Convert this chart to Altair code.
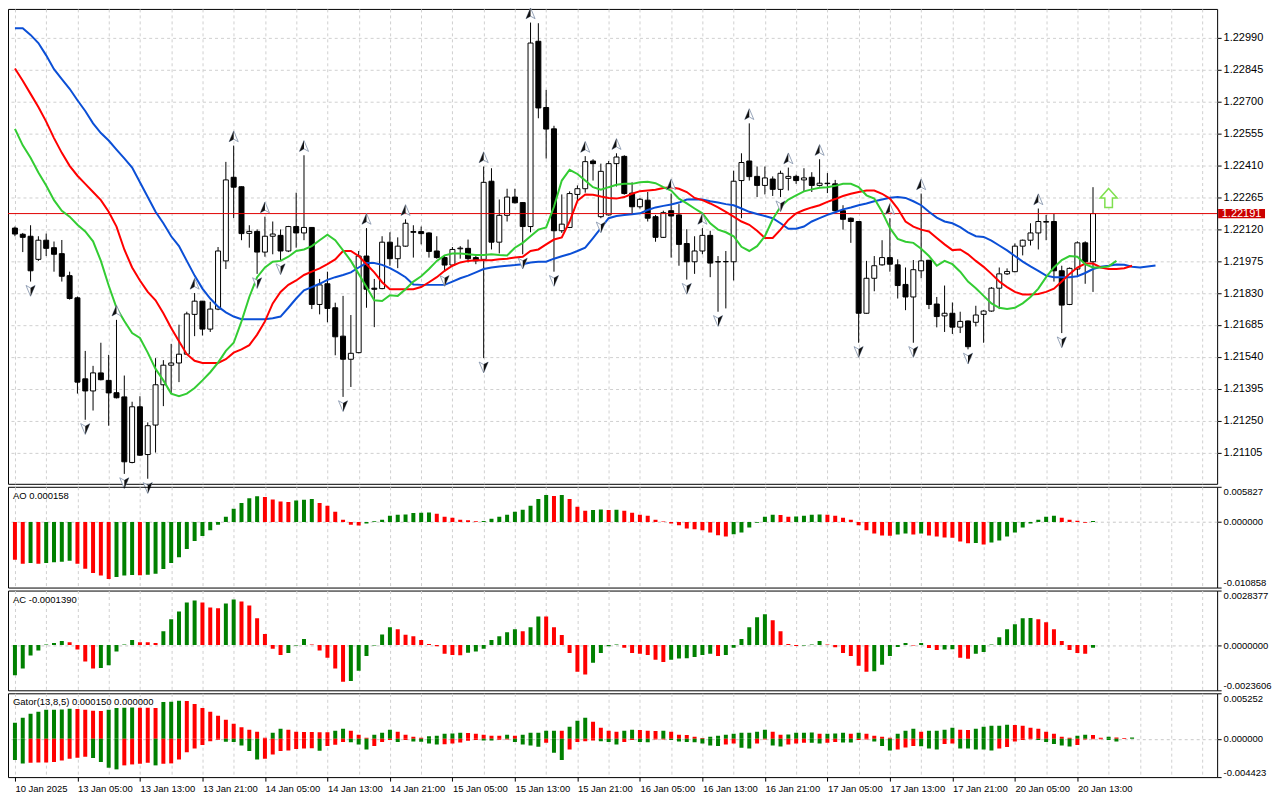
import altair as alt
import pandas as pd

FONT = "Liberation Sans"
W = 1212
H_MAIN, H_AO, H_AC, H_GATOR = 476, 101, 100, 84
GREEN, RED = "#008000", "#FF0000"
GRID_COLOR = "#d0d0d0"

# ---------------- price data (hourly candles) ----------------
OPEN = [1.22125, 1.22097, 1.22088, 1.21983, 1.22070, 1.22036, 1.22009, 1.21909, 1.21808, 1.21440,
        1.21385, 1.21467, 1.21433, 1.21377, 1.21358, 1.21060, 1.21313, 1.21096, 1.21230, 1.21413,
        1.21502, 1.21512, 1.21552, 1.21733, 1.21793, 1.21666, 1.21757, 1.21976, 1.22356, 1.22313,
        1.22101, 1.22110, 1.22016, 1.22088, 1.22092, 1.22021, 1.22132, 1.22103, 1.22128, 1.21778,
        1.21872, 1.21763, 1.21634, 1.21529, 1.21559, 1.21998, 1.21852, 1.21850, 1.22061, 1.21986,
        1.22043, 1.22109, 1.22109, 1.22103, 1.22021, 1.21991, 1.21957, 1.22031, 1.22033, 1.21991,
        1.21983, 1.22338, 1.22061, 1.22183, 1.22266, 1.22241, 1.22132, 1.22974, 1.22673, 1.22576,
        1.22113, 1.22128, 1.22278, 1.22304, 1.22430, 1.22177, 1.22185, 1.22418, 1.22451, 1.22284,
        1.22222, 1.22252, 1.22177, 1.22083, 1.22204, 1.22185, 1.22055, 1.21972, 1.22021, 1.22092,
        1.21971, 1.21972, 1.21972, 1.22341, 1.22430, 1.22360, 1.22319, 1.22348, 1.22301, 1.22351,
        1.22360, 1.22344, 1.22356, 1.22319, 1.22329, 1.22326, 1.22204, 1.22170, 1.22155, 1.21738,
        1.21897, 1.21958, 1.21991, 1.21958, 1.21869, 1.21812, 1.21931, 1.21979, 1.21780, 1.21726,
        1.21738, 1.21675, 1.21703, 1.21697, 1.21733, 1.21748, 1.21852, 1.21917, 1.21927, 1.22043,
        1.22070, 1.22103, 1.22152, 1.22155, 1.21931, 1.21778, 1.21939, 1.22058, 1.21972]
HIGH = [1.22132, 1.22103, 1.22138, 1.22088, 1.22100, 1.22064, 1.22071, 1.21927, 1.21814, 1.21567,
        1.21499, 1.21604, 1.21549, 1.21708, 1.21455, 1.21336, 1.21361, 1.21242, 1.21534, 1.21525,
        1.21599, 1.21686, 1.21745, 1.21830, 1.21794, 1.21790, 1.22039, 1.22426, 1.22500, 1.22314,
        1.22138, 1.22119, 1.22177, 1.22155, 1.22119, 1.22135, 1.22286, 1.22456, 1.22129, 1.21894,
        1.21927, 1.21786, 1.21817, 1.21730, 1.22021, 1.22125, 1.21894, 1.22088, 1.22106, 1.22083,
        1.22165, 1.22138, 1.22132, 1.22106, 1.22088, 1.21998, 1.22039, 1.22043, 1.22073, 1.22006,
        1.22405, 1.22397, 1.22255, 1.22304, 1.22304, 1.22243, 1.23059, 1.23056, 1.22753, 1.22590,
        1.22278, 1.22292, 1.22319, 1.22452, 1.22438, 1.22418, 1.22430, 1.22465, 1.22456, 1.22333,
        1.22262, 1.22289, 1.22185, 1.22204, 1.22282, 1.22234, 1.22120, 1.22088, 1.22125, 1.22113,
        1.21998, 1.22021, 1.22386, 1.22465, 1.22601, 1.22405, 1.22405, 1.22360, 1.22386, 1.22400,
        1.22368, 1.22397, 1.22379, 1.22438, 1.22375, 1.22344, 1.22229, 1.22173, 1.22156, 1.21976,
        1.21998, 1.22070, 1.22170, 1.21983, 1.21946, 1.21980, 1.22282, 1.21980, 1.21812, 1.21864,
        1.21787, 1.21745, 1.21705, 1.21772, 1.21752, 1.21857, 1.21946, 1.21942, 1.22055, 1.22073,
        1.22147, 1.22214, 1.22185, 1.22189, 1.21954, 1.21946, 1.22065, 1.22065, 1.22311]
LOW = [1.22088, 1.22016, 1.21882, 1.21976, 1.21998, 1.21927, 1.21882, 1.21800, 1.21373, 1.21254,
       1.21296, 1.21433, 1.21227, 1.21351, 1.21008, 1.21056, 1.21090, 1.20986, 1.21105, 1.21316,
       1.21373, 1.21425, 1.21549, 1.21634, 1.21637, 1.21653, 1.21752, 1.21939, 1.22170, 1.22070,
       1.22036, 1.21917, 1.21995, 1.22006, 1.21980, 1.22016, 1.22036, 1.22070, 1.21757, 1.21733,
       1.21697, 1.21547, 1.21358, 1.21403, 1.21556, 1.21763, 1.21675, 1.21847, 1.21954, 1.21943,
       1.22040, 1.21991, 1.22051, 1.21991, 1.21986, 1.21927, 1.21951, 1.21986, 1.21969, 1.21961,
       1.21534, 1.22028, 1.22010, 1.22155, 1.22237, 1.22006, 1.22106, 1.22624, 1.22441, 1.21927,
       1.22103, 1.22125, 1.22252, 1.22286, 1.22341, 1.22170, 1.22182, 1.22314, 1.22277, 1.22189,
       1.22214, 1.22155, 1.22063, 1.22080, 1.21991, 1.21954, 1.21891, 1.21917, 1.22006, 1.21902,
       1.21745, 1.21760, 1.21887, 1.22170, 1.22341, 1.22266, 1.22278, 1.22271, 1.22266, 1.22296,
       1.22326, 1.22289, 1.22289, 1.22314, 1.22284, 1.22197, 1.22118, 1.22058, 1.21604, 1.21736,
       1.21838, 1.21954, 1.21927, 1.21805, 1.21752, 1.21604, 1.21897, 1.21757, 1.21674, 1.21653,
       1.21644, 1.21648, 1.21574, 1.21678, 1.21604, 1.21745, 1.21757, 1.21912, 1.21924, 1.22001,
       1.22046, 1.22028, 1.22070, 1.21882, 1.21648, 1.21775, 1.21902, 1.21872, 1.21835]
CLOSE = [1.22098, 1.22083, 1.21931, 1.22070, 1.22033, 1.22006, 1.21906, 1.21805, 1.21425, 1.21385,
         1.21467, 1.21436, 1.21376, 1.21354, 1.21063, 1.21313, 1.21093, 1.21227, 1.21413, 1.21502,
         1.21512, 1.21552, 1.21735, 1.21793, 1.21666, 1.21757, 1.22021, 1.22344, 1.22311, 1.22100,
         1.22110, 1.22016, 1.22088, 1.22098, 1.22021, 1.22132, 1.22103, 1.22128, 1.21778, 1.21867,
         1.21760, 1.21631, 1.21529, 1.21556, 1.21998, 1.21847, 1.21847, 1.22061, 1.21986, 1.22043,
         1.22147, 1.22106, 1.22100, 1.22019, 1.21991, 1.21957, 1.22028, 1.22034, 1.21986, 1.21976,
         1.22333, 1.22061, 1.22183, 1.22266, 1.22240, 1.22132, 1.22966, 1.22671, 1.22575, 1.22113,
         1.22143, 1.22282, 1.22304, 1.22427, 1.22418, 1.22383, 1.22418, 1.22448, 1.22282, 1.22222,
         1.22256, 1.22170, 1.22083, 1.22195, 1.22180, 1.22051, 1.21972, 1.22021, 1.22092, 1.21966,
         1.21973, 1.21973, 1.22338, 1.22423, 1.22359, 1.22319, 1.22353, 1.22301, 1.22374, 1.22360,
         1.22341, 1.22353, 1.22319, 1.22329, 1.22327, 1.22204, 1.22165, 1.22155, 1.21738, 1.21897,
         1.21954, 1.21991, 1.21961, 1.21864, 1.21812, 1.21936, 1.21976, 1.21778, 1.21723, 1.21738,
         1.21675, 1.21701, 1.21586, 1.21730, 1.21748, 1.21852, 1.21917, 1.21928, 1.22043, 1.22070,
         1.22103, 1.22155, 1.22155, 1.21931, 1.21775, 1.21942, 1.22058, 1.21972, 1.22191]

# ---------------- Alligator (shifted lines) ----------------
JAW = [1.23033, 1.23033, 1.23003, 1.22966, 1.22910, 1.22847, 1.22802, 1.22758, 1.22706, 1.22657,
       1.22601, 1.22557, 1.22523, 1.22482, 1.22442, 1.22400, 1.22333, 1.22266, 1.22199, 1.22147,
       1.22088, 1.22043, 1.21976, 1.21909, 1.21850, 1.21805, 1.21768, 1.21742, 1.21723, 1.21711,
       1.21711, 1.21711, 1.21711, 1.21715, 1.21723, 1.21763, 1.21805, 1.21842, 1.21857, 1.21872,
       1.21890, 1.21902, 1.21912, 1.21924, 1.21946, 1.21966, 1.21966, 1.21958, 1.21943, 1.21924,
       1.21902, 1.21869, 1.21867, 1.21867, 1.21867, 1.21867, 1.21882, 1.21897, 1.21909, 1.21924,
       1.21939, 1.21946, 1.21951, 1.21954, 1.21957, 1.21961, 1.21969, 1.21972, 1.21972, 1.21986,
       1.21997, 1.22007, 1.22021, 1.22036, 1.22080, 1.22125, 1.22170, 1.22180, 1.22185, 1.22188,
       1.22192, 1.22207, 1.22219, 1.22226, 1.22232, 1.22241, 1.22255, 1.22256, 1.22255, 1.22247,
       1.22241, 1.22234, 1.22229, 1.22214, 1.22199, 1.22189, 1.22180, 1.22170, 1.22147, 1.22122,
       1.22122, 1.22132, 1.22155, 1.22170, 1.22185, 1.22197, 1.22210, 1.22219, 1.22229, 1.22237,
       1.22247, 1.22255, 1.22263, 1.22266, 1.22262, 1.22247, 1.22229, 1.22199, 1.22173, 1.22155,
       1.22147, 1.22129, 1.22106, 1.22088, 1.22085, 1.22068, 1.22046, 1.22024, 1.21998, 1.21973,
       1.21951, 1.21931, 1.21909, 1.21902, 1.21902, 1.21902, 1.21906, 1.21921, 1.21939, 1.21949,
       1.21954, 1.21960, 1.21958, 1.21949, 1.21946, 1.21951, 1.21955]
TEETH = [1.22850, 1.22795, 1.22735, 1.22675, 1.22609, 1.22534, 1.22467, 1.22408, 1.22363, 1.22326,
         1.22289, 1.22252, 1.22199, 1.22132, 1.22028, 1.21946, 1.21887, 1.21835, 1.21797, 1.21738,
         1.21671, 1.21611, 1.21552, 1.21522, 1.21512, 1.21512, 1.21512, 1.21529, 1.21559, 1.21574,
         1.21593, 1.21641, 1.21701, 1.21783, 1.21835, 1.21867, 1.21887, 1.21912, 1.21927, 1.21942,
         1.21961, 1.21983, 1.22021, 1.22021, 1.21998, 1.21961, 1.21924, 1.21879, 1.21847, 1.21847,
         1.21847, 1.21847, 1.21857, 1.21879, 1.21902, 1.21931, 1.21954, 1.21969, 1.21976, 1.21979,
         1.21979, 1.21979, 1.21983, 1.21986, 1.21991, 1.21995, 1.22021, 1.22028, 1.22051, 1.22073,
         1.22083, 1.22155, 1.22249, 1.22278, 1.22277, 1.22269, 1.22262, 1.22259, 1.22266, 1.22281,
         1.22293, 1.22296, 1.22299, 1.22307, 1.22311, 1.22304, 1.22289, 1.22262, 1.22252, 1.22237,
         1.22219, 1.22199, 1.22177, 1.22155, 1.22140, 1.22113, 1.22080, 1.22080, 1.22118, 1.22162,
         1.22192, 1.22207, 1.22219, 1.22229, 1.22244, 1.22257, 1.22271, 1.22281, 1.22289, 1.22296,
         1.22296, 1.22281, 1.22259, 1.22214, 1.22155, 1.22132, 1.22118, 1.22110, 1.22080, 1.22051,
         1.22025, 1.22028, 1.22006, 1.21976, 1.21949, 1.21917, 1.21882, 1.21857, 1.21835, 1.21823,
         1.21823, 1.21826, 1.21835, 1.21850, 1.21882, 1.21917, 1.21946, 1.21964, 1.21964, 1.21946,
         1.21939, 1.21939, 1.21943, 1.21954]
LIPS = [1.22576, 1.22501, 1.22445, 1.22378, 1.22319, 1.22252, 1.22204, 1.22177, 1.22140, 1.22110,
        1.22065, 1.21976, 1.21864, 1.21763, 1.21703, 1.21648, 1.21626, 1.21559, 1.21485, 1.21433,
        1.21373, 1.21361, 1.21373, 1.21398, 1.21433, 1.21470, 1.21514, 1.21567, 1.21604, 1.21701,
        1.21812, 1.21902, 1.21946, 1.21972, 1.21976, 1.21995, 1.22021, 1.22028, 1.22043, 1.22070,
        1.22095, 1.22070, 1.22024, 1.21976, 1.21917, 1.21857, 1.21797, 1.21794, 1.21820, 1.21817,
        1.21847, 1.21882, 1.21906, 1.21939, 1.21976, 1.22001, 1.22010, 1.22010, 1.22006, 1.22003,
        1.22003, 1.22006, 1.22003, 1.22001, 1.22036, 1.22058, 1.22088, 1.22118, 1.22128, 1.22222,
        1.22341, 1.22390, 1.22371, 1.22341, 1.22311, 1.22299, 1.22311, 1.22322, 1.22326, 1.22326,
        1.22333, 1.22336, 1.22329, 1.22311, 1.22296, 1.22259, 1.22237, 1.22214, 1.22192, 1.22147,
        1.22118, 1.22106, 1.22088, 1.22040, 1.22021, 1.22043, 1.22088, 1.22165, 1.22222, 1.22255,
        1.22274, 1.22292, 1.22301, 1.22308, 1.22311, 1.22317, 1.22326, 1.22326, 1.22311, 1.22274,
        1.22259, 1.22199, 1.22125, 1.22076, 1.22063, 1.22058, 1.22031, 1.21998, 1.21954, 1.21976,
        1.21961, 1.21927, 1.21882, 1.21852, 1.21817, 1.21783, 1.21763, 1.21757, 1.21763, 1.21783,
        1.21812, 1.21850, 1.21902, 1.21946, 1.21980, 1.21998, 1.21995, 1.21961, 1.21946, 1.21946,
        1.21951, 1.21976]

# ---------------- fractals and signal ----------------
FRACTAL_UP = [13, 23, 28, 32, 37, 45, 50, 60, 66, 73, 77, 84, 88, 94, 99, 103, 112, 116, 131]
FRACTAL_DOWN = [2, 9, 14, 17, 31, 34, 42, 55, 60, 65, 69, 75, 86, 90, 98, 108, 115, 122, 134]
SIGNAL_BAR = [140]
SIGNAL_PRICE = [1.22262]
CUR_PRICE = [1.22191]

# ---------------- oscillators ----------------
AO = [-0.00627, -0.00692, -0.00681, -0.00692, -0.00681, -0.00665, -0.00660, -0.00643, -0.00692, -0.00774,
      -0.00845, -0.00888, -0.00943, -0.00910, -0.00888, -0.00878, -0.00880, -0.00872, -0.00856, -0.00779,
      -0.00681, -0.00583, -0.00447, -0.00316, -0.00234, -0.00136, -0.00044, 0.00087, 0.00218, 0.00316,
      0.00392, 0.00425, 0.00414, 0.00371, 0.00338, 0.00330, 0.00354, 0.00370, 0.00381, 0.00316,
      0.00267, 0.00169, 0.00038, -0.00044, -0.00060, -0.00027, 0.00011, 0.00038, 0.00104, 0.00120,
      0.00125, 0.00150, 0.00153, 0.00156, 0.00136, 0.00087, 0.00071, 0.00038, 0.00030, 0.00011,
      0.00016, 0.00055, 0.00087, 0.00120, 0.00169, 0.00202, 0.00267, 0.00382, 0.00447, 0.00431,
      0.00447, 0.00382, 0.00251, 0.00185, 0.00200, 0.00205, 0.00200, 0.00204, 0.00185, 0.00153,
      0.00120, 0.00104, 0.00038, 0.00006, -0.00027, -0.00055, -0.00109, -0.00120, -0.00136, -0.00174,
      -0.00218, -0.00240, -0.00202, -0.00174, -0.00093, -0.00011, 0.00087, 0.00120, 0.00115, 0.00087,
      0.00092, 0.00104, 0.00120, 0.00125, 0.00120, 0.00104, 0.00071, 0.00038, -0.00055, -0.00136,
      -0.00191, -0.00224, -0.00228, -0.00207, -0.00191, -0.00207, -0.00191, -0.00224, -0.00240, -0.00256,
      -0.00260, -0.00322, -0.00354, -0.00350, -0.00371, -0.00338, -0.00305, -0.00240, -0.00174, -0.00093,
      -0.00027, 0.00038, 0.00087, 0.00104, 0.00071, 0.00038, 0.00022, -0.00011, 0.000158]
AC = [-0.00158, -0.00122, -0.00055, -0.00029, 0.00003, 0.00010, 0.00021, 0.00015, -0.00024, -0.00086,
      -0.00122, -0.00120, -0.00106, -0.00034, 0.00003, 0.00026, 0.00015, 0.00014, 0.00010, 0.00072,
      0.00134, 0.00175, 0.00221, 0.00232, 0.00221, 0.00196, 0.00191, 0.00216, 0.00237, 0.00227,
      0.00206, 0.00139, 0.00057, -0.00019, -0.00052, -0.00041, -0.00002, 0.00031, 0.00003, -0.00029,
      -0.00067, -0.00122, -0.00191, -0.00188, -0.00134, -0.00057, -0.00002, 0.00055, 0.00093, 0.00082,
      0.00053, 0.00046, 0.00026, 0.00005, -0.00007, -0.00045, -0.00052, -0.00053, -0.00040, -0.00034,
      -0.00019, 0.00026, 0.00046, 0.00067, 0.00082, 0.00072, 0.00093, 0.00149, 0.00148, 0.00093,
      0.00052, -0.00041, -0.00139, -0.00154, -0.00093, -0.00041, -0.00007, 0.00003, -0.00014, -0.00041,
      -0.00046, -0.00052, -0.00077, -0.00088, -0.00077, -0.00070, -0.00069, -0.00062, -0.00052, -0.00046,
      -0.00057, -0.00052, -0.00014, 0.00031, 0.00093, 0.00144, 0.00160, 0.00129, 0.00072, 0.00005,
      -0.00005, -0.00002, 0.00003, 0.00021, 0.00003, -0.00012, -0.00041, -0.00057, -0.00108, -0.00139,
      -0.00137, -0.00103, -0.00057, -0.00010, 0.00010, -0.00003, 0.00010, -0.00015, -0.00026, -0.00024,
      -0.00022, -0.00067, -0.00072, -0.00046, -0.00036, 0.00003, 0.00041, 0.00082, 0.00108, 0.00139,
      0.00141, 0.00134, 0.00118, 0.00082, 0.00021, -0.00026, -0.00041, -0.00046, -0.000139]
GATOR_UP = [0.00184, 0.00242, 0.00288, 0.00311, 0.00334, 0.00335, 0.00337, 0.00346, 0.00345, 0.00334,
            0.00323, 0.00321, 0.00334, 0.00357, 0.00358, 0.00360, 0.00359, 0.00358, 0.00356, 0.00426,
            0.00427, 0.00438, 0.00437, 0.00403, 0.00357, 0.00311, 0.00265, 0.00219, 0.00173, 0.00134,
            0.00104, 0.00081, 0.00012, 0.00069, 0.00115, 0.00104, 0.00081, 0.00079, 0.00078, 0.00077,
            0.00076, 0.00092, 0.00115, 0.00092, 0.00046, 0.00012, 0.00046, 0.00069, 0.00104, 0.00081,
            0.00046, 0.00023, 0.00012, 0.00030, 0.00035, 0.00058, 0.00060, 0.00069, 0.00068, 0.00058,
            0.00046, 0.00035, 0.00034, 0.00046, 0.00035, 0.00046, 0.00069, 0.00070, 0.00092, 0.00093,
            0.00092, 0.00138, 0.00207, 0.00242, 0.00196, 0.00127, 0.00092, 0.00081, 0.00092, 0.00104,
            0.00103, 0.00092, 0.00091, 0.00092, 0.00081, 0.00046, 0.00045, 0.00023, 0.00010, 0.00023,
            0.00035, 0.00046, 0.00058, 0.00069, 0.00070, 0.00081, 0.00104, 0.00081, 0.00046, 0.00050,
            0.00069, 0.00070, 0.00072, 0.00058, 0.00059, 0.00060, 0.00069, 0.00058, 0.00069, 0.00058,
            0.00035, 0.00023, 0.00012, 0.00058, 0.00092, 0.00115, 0.00081, 0.00092, 0.00093, 0.00104,
            0.00127, 0.00104, 0.00103, 0.00115, 0.00138, 0.00150, 0.00151, 0.00161, 0.00160, 0.00150,
            0.00127, 0.00115, 0.00081, 0.00058, 0.00023, 0.00012, 0.00035, 0.00046, 0.00045, 0.00012,
            0.00023, 0.00016, 0.00010, 0.00015]
GATOR_DN = [-0.00246, -0.00284, -0.00276, -0.00275, -0.00273, -0.00269, -0.00250, -0.00230, -0.00219, -0.00207,
            -0.00223, -0.00269, -0.00334, -0.00353, -0.00307, -0.00296, -0.00288, -0.00276, -0.00307, -0.00288,
            -0.00284, -0.00238, -0.00154, -0.00111, -0.00073, -0.00027, -0.00012, -0.00035, -0.00036, -0.00077,
            -0.00142, -0.00238, -0.00230, -0.00180, -0.00142, -0.00134, -0.00119, -0.00111, -0.00110, -0.00138,
            -0.00084, -0.00069, -0.00038, -0.00039, -0.00065, -0.00123, -0.00084, -0.00038, -0.00015, -0.00038,
            -0.00015, -0.00030, -0.00035, -0.00054, -0.00065, -0.00064, -0.00054, -0.00042, -0.00023, -0.00015,
            -0.00019, -0.00020, -0.00012, -0.00008, -0.00038, -0.00065, -0.00077, -0.00092, -0.00046, -0.00160,
            -0.00246, -0.00123, -0.00038, -0.00027, -0.00019, -0.00027, -0.00038, -0.00065, -0.00038, -0.00015,
            -0.00038, -0.00039, -0.00008, -0.00007, -0.00015, -0.00031, -0.00038, -0.00039, -0.00054, -0.00077,
            -0.00084, -0.00065, -0.00054, -0.00104, -0.00111, -0.00054, -0.00008, -0.00077, -0.00088, -0.00065,
            -0.00054, -0.00046, -0.00047, -0.00054, -0.00046, -0.00038, -0.00042, -0.00043, -0.00015, -0.00008,
            -0.00031, -0.00084, -0.00134, -0.00123, -0.00100, -0.00084, -0.00085, -0.00111, -0.00123, -0.00061,
            -0.00054, -0.00111, -0.00112, -0.00123, -0.00124, -0.00134, -0.00111, -0.00096, -0.00031, -0.00015,
            -0.00004, -0.00015, -0.00038, -0.00061, -0.00077, -0.00088, -0.00073, -0.00008, -0.00006, -0.00004,
            -0.00015, -0.00031]
AO_PREV, AC_PREV, GATOR_UP_PREV, GATOR_DN_PREV = -0.0060, -0.0018, 0.0015, -0.0022

# ---------------- axes / labels ----------------
PRICE_TICKS = [1.21105, 1.21250, 1.21395, 1.21540, 1.21685, 1.21830, 1.21975,
               1.22120, 1.22265, 1.22410, 1.22555, 1.22700, 1.22845, 1.22990]
PRICE_DOMAIN = [1.20963, 1.23121]
AO_DOMAIN = [-0.010858, 0.005827]
AC_DOMAIN = [-0.0023606, 0.0028377]
GATOR_DOMAIN = [-0.004423, 0.005252]
DATE_LABELS = ["10 Jan 2025", "13 Jan 05:00", "13 Jan 13:00", "13 Jan 21:00", "14 Jan 05:00",
               "14 Jan 13:00", "14 Jan 21:00", "15 Jan 05:00", "15 Jan 13:00", "15 Jan 21:00",
               "16 Jan 05:00", "16 Jan 13:00", "16 Jan 21:00", "17 Jan 05:00", "17 Jan 13:00",
               "17 Jan 21:00", "20 Jan 05:00", "20 Jan 13:00"]
LABEL_STEP = 8
GRID_STEP = 4
X_MAX = 153.25
TITLES = ["AO 0.000158", "AC -0.0001390", "Gator(13,8,5) 0.000150 0.000000"]

GRID_VALS = list(range(0, 153, GRID_STEP))
XS = alt.Scale(domain=[-0.25, X_MAX], nice=False, zero=False)


def label_expr():
    expr = "''"
    for k in reversed(range(len(DATE_LABELS))):
        expr = f"datum.value == {k * LABEL_STEP} ? '{DATE_LABELS[k]}' : ({expr})"
    return expr


X_AXIS_GRID = alt.Axis(values=GRID_VALS, grid=True, gridColor=GRID_COLOR, gridDash=[3, 3],
                       labels=False, ticks=False, domain=False, title=None)
X_AXIS_BOTTOM = alt.Axis(values=GRID_VALS, grid=True, gridColor=GRID_COLOR, gridDash=[3, 3],
                         labelExpr=label_expr(), labelAlign="left", labelBaseline="top",
                         labelPadding=2, labelOverlap=False, labelFlush=False, labelFontSize=9.5,
                         ticks=True, tickSize=4, tickColor="black",
                         tickOpacity={"condition": {"test": f"datum.value % {LABEL_STEP} == 0 && datum.value <= {LABEL_STEP * (len(DATE_LABELS) - 1)}", "value": 1}, "value": 0},
                         domain=False, title=None)


def xenc(bottom=False):
    return alt.X("i:Q", scale=XS, axis=X_AXIS_BOTTOM if bottom else X_AXIS_GRID)


Y_MAIN_SCALE = alt.Scale(domain=PRICE_DOMAIN, nice=False, zero=False)
Y_MAIN_AXIS = alt.Axis(orient="right", values=PRICE_TICKS, format=".5f", grid=True,
                       gridColor=GRID_COLOR, gridDash=[3, 3], tickSize=4, labelPadding=2,
                       labelFontSize=11, domain=False, labelOverlap=False, title=None)


def ymain(field):
    return alt.Y(f"{field}:Q", scale=Y_MAIN_SCALE, axis=Y_MAIN_AXIS)


UP_ARROW = "M0,-1 L0.8,0.9 L0,0.45 L-0.8,0.9 Z"
UP_HALF = "M0,-1 L0,0.45 L-0.8,0.9 Z"
DOWN_ARROW = "M0,1 L0.8,-0.9 L0,-0.45 L-0.8,-0.9 Z"
DOWN_HALF = "M0,1 L0,-0.45 L0.8,-0.9 Z"
SIGNAL_ARROW = "M0,-1 L0.9,0 L0.4,0 L0.4,1 L-0.4,1 L-0.4,0 L-0.9,0 Z"
BOX = "M-1,-0.2 L1,-0.2 L1,0.2 L-1,0.2 Z"

# ---------------- main price panel ----------------
cdf = pd.DataFrame({"i": range(len(OPEN)), "o": OPEN, "h": HIGH, "l": LOW, "c": CLOSE})
cdf["dir"] = ["bull" if c > o else "bear" for o, c in zip(OPEN, CLOSE)]

wicks = alt.Chart(cdf).mark_rule(color="black", strokeWidth=1, clip=True).encode(
    x=xenc(), y=ymain("l"), y2="h")
bodies = alt.Chart(cdf).mark_bar(size=5, stroke="black", strokeWidth=1, clip=True).encode(
    x=xenc(), y=ymain("o"), y2="c",
    fill=alt.Fill("dir:N", scale=alt.Scale(domain=["bull", "bear"], range=["white", "black"]), legend=None))

pdf = pd.DataFrame({"p": CUR_PRICE})
price_rule = alt.Chart(pdf).mark_rule(color="#E00000", strokeWidth=1).encode(y=ymain("p"))
price_box = alt.Chart(pdf).mark_point(shape=BOX, filled=True, color="#CC0000", size=2209, opacity=1).encode(
    x=alt.value(W + 24.5), y=ymain("p"))
price_txt = alt.Chart(pdf).mark_text(color="white", font=FONT, fontSize=11, align="center", baseline="middle").encode(
    x=alt.value(W + 24.5), y=ymain("p"), text=alt.Text("p:Q", format=".5f"))


def line(vals, color):
    df = pd.DataFrame({"i": range(len(vals)), "v": vals})
    return alt.Chart(df).mark_line(color=color, strokeWidth=2).encode(x=xenc(), y=ymain("v"))


jaw = line(JAW, "#0B4FD6")
teeth = line(TEETH, "#FF0000")
lips = line(LIPS, "#33CC33")

fu = pd.DataFrame({"i": FRACTAL_UP, "p": [HIGH[k] for k in FRACTAL_UP]})
fd = pd.DataFrame({"i": FRACTAL_DOWN, "p": [LOW[k] for k in FRACTAL_DOWN]})


def fractal(df, full, half, dy):
    outline = alt.Chart(df).mark_point(shape=full, filled=True, fill="white", stroke="#7f8fa8",
                                       strokeWidth=0.8, size=130, opacity=1, yOffset=dy).encode(x=xenc(), y=ymain("p"))
    dark = alt.Chart(df).mark_point(shape=half, filled=True, fill="#111111", strokeWidth=0,
                                    size=130, opacity=1, yOffset=dy).encode(x=xenc(), y=ymain("p"))
    return [outline, dark]


sdf = pd.DataFrame({"i": SIGNAL_BAR, "p": SIGNAL_PRICE})
signal = alt.Chart(sdf).mark_point(shape=SIGNAL_ARROW, filled=False, fill="white", stroke="#7FE04F",
                                   strokeWidth=1.5, size=361, opacity=1).encode(x=xenc(), y=ymain("p"))

main = alt.layer(wicks, bodies, price_rule, jaw, teeth, lips,
                 *fractal(fu, UP_ARROW, UP_HALF, -9), *fractal(fd, DOWN_ARROW, DOWN_HALF, 9),
                 signal, price_box, price_txt).properties(width=W, height=H_MAIN)


# ---------------- oscillator panels ----------------
def yind(dom, fmt):
    return alt.Y("v:Q", scale=alt.Scale(domain=dom, nice=False, zero=False), stack=None,
                 axis=alt.Axis(orient="right", values=[dom[0], 0, dom[1]],
                               labelExpr=f"replace(format(datum.value, '{fmt}'), '\u2212', '-')",
                               labelFlush=True, grid=True, gridColor="#c8c8c8", gridDash=[3, 3],
                               gridOpacity={"condition": {"test": "datum.value == 0", "value": 1}, "value": 0},
                               tickSize=4, labelPadding=2, labelFontSize=9.5, domain=False,
                               labelOverlap=False, title=None))


def indicator(series, dom, fmt, title, height, bottom=False):
    layers = []
    for vals, prev, absmode in series:
        dirs = []
        p = prev
        for v in vals:
            a, b = (abs(v), abs(p)) if absmode else (v, p)
            dirs.append("up" if a > b else "down")
            p = v
        df = pd.DataFrame({"i": range(len(vals)), "v": vals, "z": [0.0] * len(vals), "d": dirs})
        layers.append(alt.Chart(df).mark_bar(size=4, clip=True).encode(
            x=xenc(bottom), y=yind(dom, fmt), y2="z",
            color=alt.Color("d:N", scale=alt.Scale(domain=["up", "down"], range=[GREEN, RED]), legend=None)))
    tdf = pd.DataFrame({"t": [title]})
    txt = alt.Chart(tdf).mark_text(align="left", baseline="middle", font=FONT, fontSize=9.5, color="black").encode(
        x=alt.value(5), y=alt.value(9), text="t:N")
    return alt.layer(*layers, txt).properties(width=W, height=height)


ao = indicator([(AO, AO_PREV, False)], AO_DOMAIN, ".6f", TITLES[0], H_AO)
ac = indicator([(AC, AC_PREV, False)], AC_DOMAIN, ".7f", TITLES[1], H_AC)
gator = indicator([(GATOR_UP, GATOR_UP_PREV, False), (GATOR_DN, GATOR_DN_PREV, True)],
                  GATOR_DOMAIN, ".6f", TITLES[2], H_GATOR, bottom=True)

chart = alt.vconcat(main, ao, ac, gator, spacing=3, bounds="flush").properties(
    padding={"left": -1, "top": -4, "right": 0, "bottom": 0}, background="white"
).configure_view(stroke="black", strokeWidth=1).configure_axis(
    labelFont=FONT, labelFontSize=9.5, labelColor="black", tickColor="black", domainColor="black"
)

chart.save("out.html", embed_options={"renderer": "svg", "actions": False})
